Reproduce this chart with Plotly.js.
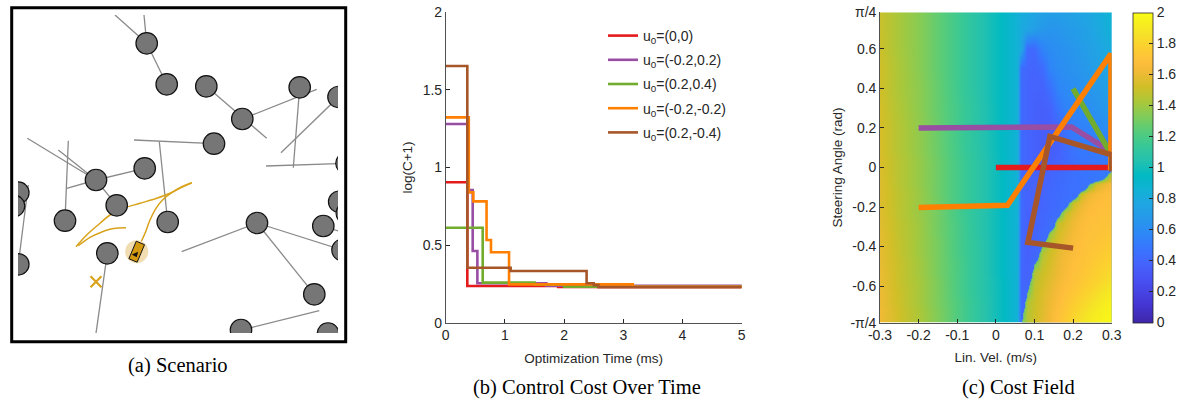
<!DOCTYPE html>
<html><head><meta charset="utf-8">
<script src="https://cdn.plot.ly/plotly-3.0.1.min.js"></script>
<style>html,body{margin:0;padding:0;background:#fff;}#chart{width:1184px;height:401px;}</style>
</head><body><div id="chart"></div>
<script>
// ---------- Panel (a) Scenario data (scene units) ----------
const obstacleX = [128.7,148.7,188.3,224.3,281.7,320.5,196,78,126.7,98.7,47,149.7,0.3,-4,0.3,89.3,239,305.3,328.5,321.2,328.8,324.5,296.3,310,223];
const obstacleY = [28.3,69.3,71.3,104,72.3,82,128.7,165,153.3,190.3,205.7,207,177.7,191,249.3,238.3,208,211,148.3,186.7,198.3,235,279.3,318.5,315];
const linkStart = [[97,0],[126,0],[128.7,28.3],[188.3,71.3],[224.3,104],[281.7,72.3],[320.5,82],[248,151],[116,125],[141.3,126.7],[9.3,123.3],[40.3,135],[50.3,125.7],[48.7,173.3],[78,165],[78,165],[10.3,170],[89.3,238.3],[163.7,236.7],[239,208],[239,208],[301.3,295.7],[305.3,211]];
const linkEnd   = [[128.7,28.3],[128.7,28.3],[148.7,69.3],[248.7,123.3],[298.7,74.3],[275.3,152.7],[263,137.7],[328.5,148.3],[196,128.7],[149.7,207],[78,165],[78,165],[47,205.7],[78,165],[126.7,153.3],[98.7,190.3],[0.3,249.3],[78,318.3],[239,208],[324.5,235],[296.3,279.3],[223,315],[320,216]];
const pathAX = [58,68.7,82,92,105.3,122,138.7,152,163.7,173.7];
const pathAY = [231.7,220,208.3,200,193.3,188.3,183.3,178.3,172.3,167.7];
const pathBX = [60.3,72,82,92,100.3,108];
const pathBY = [230.7,222.3,217.7,214.3,213,212.7];
const pathCX = [122.7,127,132,138,145.3,153.7,163.7,173.7];
const pathCY = [227.7,218.3,205,193.3,184.3,177.7,171.7,167.7];
const robotX = [118.7], robotY = [236.7], robotHeading = [-8, 19];
const goalX = [78], goalY = [266.7];

// ---------- Panel (b) Control cost over time ----------
const seriesNames = ['u<sub>0</sub>=(0,0)','u<sub>0</sub>=(-0.2,0.2)','u<sub>0</sub>=(0.2,0.4)','u<sub>0</sub>=(-0.2,-0.2)','u<sub>0</sub>=(0.2,-0.4)'];
const tRed    = [0, 0.365, 1.9, 5];
const cRed    = [0.905, 0.236, 0.23, 0.23];
const tPurple = [0, 0.37, 0.456, 0.535, 1.7, 5];
const cPurple = [1.28, 0.855, 0.462, 0.254, 0.238, 0.23];
const tGreen  = [0, 0.625, 1.5, 2.0, 5];
const cGreen  = [0.612, 0.258, 0.245, 0.232, 0.23];
const tOrange = [0, 0.39, 0.467, 0.69, 0.765, 1.07, 3.16, 5];
const cOrange = [1.323, 0.84, 0.782, 0.533, 0.454, 0.247, 0.232, 0.23];
const tBrown  = [0, 0.365, 1.097, 2.38, 2.5, 2.58, 5];
const cBrown  = [1.654, 0.354, 0.333, 0.254, 0.242, 0.228, 0.228];
const bXTicks = [0,1,2,3,4,5], bXTickText = ['0','1','2','3','4','5'];
const bYTicks = [0,0.5,1,1.5,2], bYTickText = ['0','0.5','1','1.5','2'];

// ---------- Panel (c) Cost field ----------
// base field (free-space cost)
const fieldVel = [-0.3,-0.25,-0.2,-0.15,-0.1,-0.05,0,0.03,0.055,0.065,0.08,0.1,0.12,0.14,0.16,0.18,0.2,0.22,0.24,0.26,0.28,0.3];
const fieldSteer = [-0.785,-0.73,-0.68,-0.63,-0.58,-0.53,-0.48,-0.43,-0.38,-0.33,-0.28,-0.23,-0.18,-0.13,-0.08,-0.03,0.02,0.1,0.2,0.3,0.4,0.5,0.6,0.7,0.785];
const baseCost = [
 [1.62,1.52,1.43,1.33,1.22,1.11,1.00,0.93,0.86, 0.43,0.44,0.45,0.46,0.47,0.48,0.48,0.49,0.49,0.50,0.50,0.50,0.50],
 [1.62,1.52,1.43,1.33,1.22,1.11,1.00,0.93,0.86, 0.42,0.43,0.45,0.46,0.47,0.48,0.48,0.49,0.49,0.50,0.50,0.50,0.50],
 [1.61,1.51,1.42,1.32,1.22,1.11,1.00,0.93,0.86, 0.41,0.42,0.44,0.46,0.47,0.48,0.48,0.49,0.49,0.50,0.50,0.50,0.50],
 [1.61,1.51,1.42,1.32,1.21,1.10,1.00,0.93,0.86, 0.40,0.42,0.44,0.46,0.47,0.48,0.48,0.49,0.49,0.50,0.50,0.50,0.50],
 [1.60,1.50,1.42,1.32,1.21,1.10,1.00,0.93,0.86, 0.40,0.40,0.43,0.45,0.46,0.47,0.48,0.49,0.49,0.50,0.50,0.50,0.50],
 [1.60,1.50,1.41,1.31,1.21,1.10,0.99,0.92,0.86, 0.40,0.38,0.42,0.44,0.46,0.47,0.48,0.49,0.49,0.50,0.50,0.50,0.50],
 [1.59,1.50,1.41,1.31,1.21,1.10,0.99,0.92,0.86, 0.41,0.37,0.42,0.44,0.46,0.47,0.48,0.49,0.49,0.50,0.50,0.50,0.50],
 [1.59,1.49,1.40,1.31,1.20,1.10,0.99,0.92,0.86, 0.41,0.37,0.40,0.43,0.45,0.47,0.48,0.49,0.49,0.50,0.50,0.50,0.50],
 [1.58,1.49,1.40,1.31,1.20,1.10,0.99,0.92,0.86, 0.41,0.37,0.39,0.43,0.45,0.46,0.47,0.48,0.49,0.50,0.50,0.50,0.50],
 [1.58,1.48,1.40,1.30,1.20,1.09,0.99,0.92,0.86, 0.41,0.37,0.39,0.42,0.44,0.46,0.47,0.48,0.49,0.50,0.50,0.50,0.50],
 [1.57,1.48,1.40,1.30,1.20,1.09,0.99,0.92,0.86, 0.42,0.37,0.38,0.40,0.44,0.45,0.47,0.48,0.49,0.50,0.50,0.50,0.50],
 [1.57,1.47,1.39,1.30,1.19,1.09,0.99,0.92,0.86, 0.42,0.37,0.38,0.40,0.42,0.44,0.46,0.47,0.48,0.49,0.50,0.50,0.50],
 [1.56,1.47,1.39,1.30,1.19,1.09,0.99,0.92,0.86, 0.42,0.38,0.38,0.39,0.41,0.43,0.45,0.46,0.47,0.48,0.49,0.50,0.50],
 [1.56,1.47,1.39,1.29,1.19,1.09,0.99,0.92,0.86, 0.42,0.38,0.38,0.39,0.41,0.43,0.44,0.45,0.46,0.47,0.48,0.49,0.50],
 [1.56,1.46,1.38,1.29,1.19,1.09,0.99,0.92,0.86, 0.42,0.38,0.38,0.38,0.40,0.42,0.44,0.45,0.46,0.47,0.48,0.49,0.50],
 [1.55,1.46,1.38,1.29,1.19,1.09,0.99,0.92,0.86, 0.42,0.39,0.37,0.37,0.39,0.41,0.43,0.45,0.47,0.48,0.49,0.50,0.51],
 [1.55,1.46,1.38,1.29,1.19,1.09,0.99,0.92,0.86, 0.42,0.39,0.37,0.36,0.37,0.39,0.42,0.45,0.47,0.48,0.49,0.50,0.52],
 [1.54,1.45,1.37,1.28,1.18,1.08,0.98,0.92,0.86, 0.42,0.39,0.37,0.35,0.35,0.37,0.42,0.47,0.50,0.50,0.50,0.50,0.52],
 [1.54,1.45,1.37,1.28,1.18,1.08,0.98,0.92,0.86, 0.42,0.39,0.37,0.35,0.36,0.40,0.47,0.52,0.54,0.56,0.58,0.60,0.63],
 [1.53,1.44,1.36,1.27,1.18,1.08,0.98,0.92,0.86, 0.42,0.39,0.37,0.36,0.38,0.48,0.55,0.57,0.59,0.62,0.64,0.67,0.70],
 [1.52,1.43,1.36,1.27,1.17,1.07,0.98,0.92,0.86, 0.42,0.39,0.38,0.38,0.45,0.56,0.59,0.61,0.63,0.66,0.68,0.71,0.74],
 [1.52,1.43,1.35,1.26,1.17,1.07,0.98,0.92,0.86, 0.43,0.40,0.39,0.42,0.56,0.60,0.62,0.64,0.66,0.69,0.72,0.75,0.78],
 [1.51,1.42,1.35,1.26,1.17,1.07,0.98,0.92,0.86, 0.78,0.42,0.41,0.55,0.60,0.62,0.64,0.66,0.69,0.72,0.75,0.78,0.82],
 [1.50,1.42,1.35,1.26,1.17,1.07,0.98,0.92,0.86, 0.80,0.76,0.71,0.67,0.65,0.66,0.68,0.70,0.72,0.75,0.78,0.82,0.86],
 [1.50,1.42,1.35,1.26,1.17,1.07,0.98,0.92,0.86, 0.82,0.80,0.77,0.74,0.72,0.72,0.73,0.74,0.76,0.78,0.81,0.84,0.88]
];
// high-cost (collision) region in the lower right; cells below 1.3 lie outside it
const obstacleVel = [0.055,0.065,0.08,0.1,0.12,0.14,0.16,0.18,0.2,0.22,0.24,0.26,0.28,0.3];
const obstacleSteer = [-0.785,-0.73,-0.68,-0.63,-0.58,-0.53,-0.48,-0.43,-0.38,-0.33,-0.28,-0.23,-0.18,-0.13,-0.08,-0.03,0.02];
const obstacleCost = [
 [0.6,1.29,1.45,1.52,1.58,1.64,1.70,1.76,1.82,1.87,1.91,1.94,1.97,1.99],
 [0.6,1.22,1.45,1.51,1.57,1.63,1.69,1.74,1.79,1.84,1.88,1.92,1.95,1.97],
 [0.6,1.02,1.44,1.50,1.56,1.62,1.67,1.72,1.76,1.80,1.84,1.88,1.92,1.95],
 [0.6,0.6,1.29,1.49,1.55,1.60,1.65,1.70,1.73,1.77,1.80,1.84,1.88,1.92],
 [0.6,0.6,1.21,1.47,1.53,1.58,1.63,1.68,1.71,1.74,1.77,1.80,1.84,1.88],
 [0.6,0.6,0.95,1.45,1.51,1.56,1.61,1.66,1.70,1.72,1.75,1.78,1.81,1.84],
 [0.6,0.6,0.6,1.27,1.48,1.54,1.60,1.65,1.69,1.71,1.73,1.76,1.78,1.81],
 [0.6,0.6,0.6,1.02,1.45,1.52,1.58,1.63,1.67,1.70,1.72,1.74,1.76,1.78],
 [0.6,0.6,0.6,0.6,1.24,1.48,1.55,1.61,1.66,1.69,1.71,1.72,1.74,1.76],
 [0.6,0.6,0.6,0.6,1.00,1.38,1.52,1.58,1.64,1.68,1.70,1.71,1.72,1.74],
 [0.6,0.6,0.6,0.6,0.6,0.90,1.47,1.55,1.62,1.67,1.69,1.70,1.71,1.72],
 [0.6,0.6,0.6,0.6,0.6,0.6,1.12,1.48,1.57,1.64,1.68,1.69,1.70,1.71],
 [0.6,0.6,0.6,0.6,0.6,0.6,0.6,1.10,1.50,1.59,1.65,1.68,1.69,1.70],
 [0.6,0.6,0.6,0.6,0.6,0.6,0.6,0.6,0.93,1.50,1.60,1.65,1.68,1.69],
 [0.6,0.6,0.6,0.6,0.6,0.6,0.6,0.6,0.6,0.6,1.23,1.52,1.60,1.66],
 [0.6,0.6,0.6,0.6,0.6,0.6,0.6,0.6,0.6,0.6,0.6,0.6,1.05,1.55],
 [0.6,0.6,0.6,0.6,0.6,0.6,0.6,0.6,0.6,0.6,0.6,0.6,0.6,0.6]
];
const velRed = [0, 0.3], steerRed = [0, 0];
const velPurple = [-0.2, 0.196, 0.291], steerPurple = [0.2, 0.205, 0.089];
const velGreen = [0.2, 0.294], steerGreen = [0.399, 0.081];
const velOrange = [-0.2, 0.03, 0.298, 0.298, 0.29], steerOrange = [-0.203, -0.191, 0.575, 0.0, 0.0];
const velBrown = [0.2, 0.083, 0.14, 0.3, 0.3], steerBrown = [-0.408, -0.379, 0.157, 0.064, -0.02];
const cXTicks = [-0.3,-0.2,-0.1,0,0.1,0.2,0.3], cXTickText = ['-0.3','-0.2','-0.1','0','0.1','0.2','0.3'];
const cYTicks = [-Math.PI/4,-0.6,-0.4,-0.2,0,0.2,0.4,0.6,Math.PI/4];
const cYTickText = ['-π/4','-0.6','-0.4','-0.2','0','0.2','0.4','0.6','π/4'];
const cbTicks = [0,0.2,0.4,0.6,0.8,1,1.2,1.4,1.6,1.8,2];
const cbTickText = ['0','0.2','0.4','0.6','0.8','1','1.2','1.4','1.6','1.8','2'];
const captions = ['(a) Scenario','(b) Control Cost Over Time','(c) Cost Field'];

// ---------- styles ----------
const W = 1184, H = 401;
const fx = p => p / W, fy = p => 1 - p / H;
const COLORS = ['#e41a1c','#984ea3','#72ac2e','#ff7f00','#a65628'];
const GOLD = '#d9a21b';
const TXT = '#262626';
const parula = [
 [0,'rgb(62,38,168)'],[0.0635,'rgb(69,55,213)'],[0.1429,'rgb(72,82,244)'],[0.1905,'rgb(69,99,253)'],
 [0.2381,'rgb(56,117,254)'],[0.2857,'rgb(46,135,247)'],[0.3333,'rgb(39,151,235)'],[0.381,'rgb(32,165,227)'],
 [0.4286,'rgb(18,177,214)'],[0.4762,'rgb(2,186,195)'],[0.5238,'rgb(36,193,174)'],[0.5714,'rgb(55,200,151)'],
 [0.619,'rgb(87,204,122)'],[0.6667,'rgb(129,204,89)'],[0.7143,'rgb(171,199,57)'],[0.7619,'rgb(209,191,39)'],
 [0.8095,'rgb(240,186,54)'],[0.8413,'rgb(254,190,60)'],[0.8889,'rgb(252,207,48)'],[0.9365,'rgb(245,227,39)'],
 [1,'rgb(249,251,21)']];
const CUT = 0.65; // 1.3 on the 0..2 scale
const parulaCut = [[0,'rgba(114,204,100,0)'],[CUT-0.0005,'rgba(114,204,100,0)'],[CUT,'rgb(114,204,100)']].concat(parula.filter(s => s[0] > CUT));

const traces = [];
// panel a: links
const lx = [], ly = [];
linkStart.forEach((s, i) => { lx.push(s[0], linkEnd[i][0], null); ly.push(s[1], linkEnd[i][1], null); });
traces.push({type:'scatter', mode:'lines', x:lx, y:ly, xaxis:'x', yaxis:'y', line:{color:'#8a8a8a', width:1.3}, showlegend:false, hoverinfo:'skip'});
traces.push({type:'scatter', mode:'lines', x:pathAX, y:pathAY, xaxis:'x', yaxis:'y', line:{color:GOLD, width:1.5, shape:'spline'}, showlegend:false});
traces.push({type:'scatter', mode:'lines', x:pathBX, y:pathBY, xaxis:'x', yaxis:'y', line:{color:GOLD, width:1.5, shape:'spline'}, showlegend:false});
traces.push({type:'scatter', mode:'lines', x:pathCX, y:pathCY, xaxis:'x', yaxis:'y', line:{color:GOLD, width:1.5, shape:'spline'}, showlegend:false});
traces.push({type:'scatter', mode:'markers', x:obstacleX, y:obstacleY, xaxis:'x', yaxis:'y', marker:{size:21.5, color:'#767676', line:{color:'#111', width:1.2}}, showlegend:false});
traces.push({type:'scatter', mode:'markers', x:robotX, y:robotY, xaxis:'x', yaxis:'y', marker:{size:23, color:'#f2ddb2'}, showlegend:false});
// robot body computed from pose
const CAR_L = 19, CAR_W = 9;
(function(){
  const cx = robotX[0], cy = robotY[0];
  const n = Math.hypot(robotHeading[0], robotHeading[1]);
  const ux = robotHeading[0]/n, uy = robotHeading[1]/n, vx = -uy, vy = ux;
  const c = [[1,1],[1,-1],[-1,-1],[-1,1],[1,1]].map(([a,b]) => [cx + ux*a*CAR_L/2 + vx*b*CAR_W/2, cy + uy*a*CAR_L/2 + vy*b*CAR_W/2]);
  traces.push({type:'scatter', mode:'lines', x:c.map(p=>p[0]), y:c.map(p=>p[1]), fill:'toself', fillcolor:'#d49a12', line:{color:'#111', width:1}, xaxis:'x', yaxis:'y', showlegend:false});
  const ang = Math.atan2(-ux, uy) * 180 / Math.PI;
  traces.push({type:'scatter', mode:'markers', x:[cx + ux*3], y:[cy + uy*3], xaxis:'x', yaxis:'y', marker:{symbol:'triangle-down', size:6, color:'#111', angle:-ang}, showlegend:false});
})();
traces.push({type:'scatter', mode:'markers', x:goalX, y:goalY, xaxis:'x', yaxis:'y', marker:{symbol:'x-thin', size:11, line:{color:GOLD, width:2.2}}, showlegend:false});

// panel b
[[tRed,cRed],[tPurple,cPurple],[tGreen,cGreen],[tOrange,cOrange],[tBrown,cBrown]].forEach((d, i) => {
  traces.push({type:'scatter', mode:'lines', x:d[0], y:d[1], xaxis:'x2', yaxis:'y2', name:seriesNames[i], legendgroup:'g'+i, line:{color:COLORS[i], width:2.6, shape:'hv'}});
});

// panel c
traces.push({type:'heatmap', x:fieldVel, y:fieldSteer, z:baseCost, xaxis:'x3', yaxis:'y3', zsmooth:'best', zmin:0, zmax:2, colorscale:parula, showlegend:false,
  colorbar:{x:fx(1132.7), xanchor:'left', xpad:0, ypad:0, y:fy(167.5), yanchor:'middle', len:310.4, lenmode:'pixels', thickness:20, thicknessmode:'pixels',
   outlinewidth:0.8, outlinecolor:TXT, ticks:'inside', ticklen:4, tickcolor:TXT, tickvals:cbTicks, ticktext:cbTickText, tickfont:{size:14, color:TXT}}});
traces.push({type:'heatmap', x:obstacleVel, y:obstacleSteer, z:obstacleCost, xaxis:'x3', yaxis:'y3', zsmooth:'best', zmin:0, zmax:2, colorscale:parulaCut, showscale:false, showlegend:false});
[[velRed,steerRed],[velPurple,steerPurple],[velGreen,steerGreen],[velOrange,steerOrange],[velBrown,steerBrown]].forEach((d, i) => {
  traces.push({type:'scatter', mode:'lines', x:d[0], y:d[1], xaxis:'x3', yaxis:'y3', line:{color:COLORS[i], width:5.5}, showlegend:false});
});

const axB = {showgrid:false, zeroline:false, ticks:'inside', ticklen:4, tickcolor:TXT, showline:true, linecolor:TXT, linewidth:0.8, tickfont:{size:14, color:TXT}, fixedrange:true};
const layout = {
  width:W, height:H, margin:{l:0,r:0,t:0,b:0}, paper_bgcolor:'#fff', plot_bgcolor:'rgba(0,0,0,0)',
  font:{family:'Liberation Sans, Arial, sans-serif', color:TXT},
  showlegend:true,
  legend:{x:fx(603), y:fy(20), xanchor:'left', yanchor:'top', bgcolor:'rgba(0,0,0,0)', font:{size:14, color:TXT}, itemwidth:30, tracegroupgap:3},
  xaxis:{domain:[fx(18),fx(338)], range:[0,320], visible:false, fixedrange:true},
  yaxis:{domain:[fy(333),fy(15)], range:[318,0], visible:false, fixedrange:true},
  xaxis2:Object.assign({}, axB, {domain:[fx(445.7),fx(741.7)], range:[0,5], anchor:'y2', tickvals:bXTicks, ticktext:bXTickText, title:{text:'Optimization Time (ms)', font:{size:13.5, color:TXT}, standoff:11}}),
  yaxis2:Object.assign({}, axB, {domain:[fy(322.7),fy(12.3)], range:[0,2], anchor:'x2', tickvals:bYTicks, ticktext:bYTickText, title:{text:'log(C+1)', font:{size:13.5, color:TXT}, standoff:6}}),
  xaxis3:Object.assign({}, axB, {domain:[fx(880),fx(1111.7)], range:[-0.3,0.3], anchor:'y3', tickvals:cXTicks, ticktext:cXTickText, title:{text:'Lin. Vel. (m/s)', font:{size:13.5, color:TXT}, standoff:10}}),
  yaxis3:Object.assign({}, axB, {domain:[fy(322.7),fy(12.3)], range:[-Math.PI/4,Math.PI/4], anchor:'x3', tickvals:cYTicks, ticktext:cYTickText, title:{text:'Steering Angle (rad)', font:{size:13.5, color:TXT}, standoff:4}}),
  shapes:[{type:'rect', xref:'paper', yref:'paper', x0:fx(11.7), x1:fx(345.7), y0:fy(341.7), y1:fy(7.7), line:{color:'#000', width:3}}],
  annotations:[
    {text:captions[0], xref:'paper', yref:'paper', x:fx(177.5), y:fy(365), xanchor:'center', yanchor:'middle', showarrow:false, font:{family:'Liberation Serif, Times New Roman, serif', size:20.5, color:'#000'}},
    {text:captions[1], xref:'paper', yref:'paper', x:fx(586.7), y:fy(387.5), xanchor:'center', yanchor:'middle', showarrow:false, font:{family:'Liberation Serif, Times New Roman, serif', size:20.5, color:'#000'}},
    {text:captions[2], xref:'paper', yref:'paper', x:fx(1018.3), y:fy(387.5), xanchor:'center', yanchor:'middle', showarrow:false, font:{family:'Liberation Serif, Times New Roman, serif', size:20.5, color:'#000'}}
  ]
};
Plotly.newPlot('chart', traces, layout, {staticPlot:true, displayModeBar:false});
</script></body></html>
